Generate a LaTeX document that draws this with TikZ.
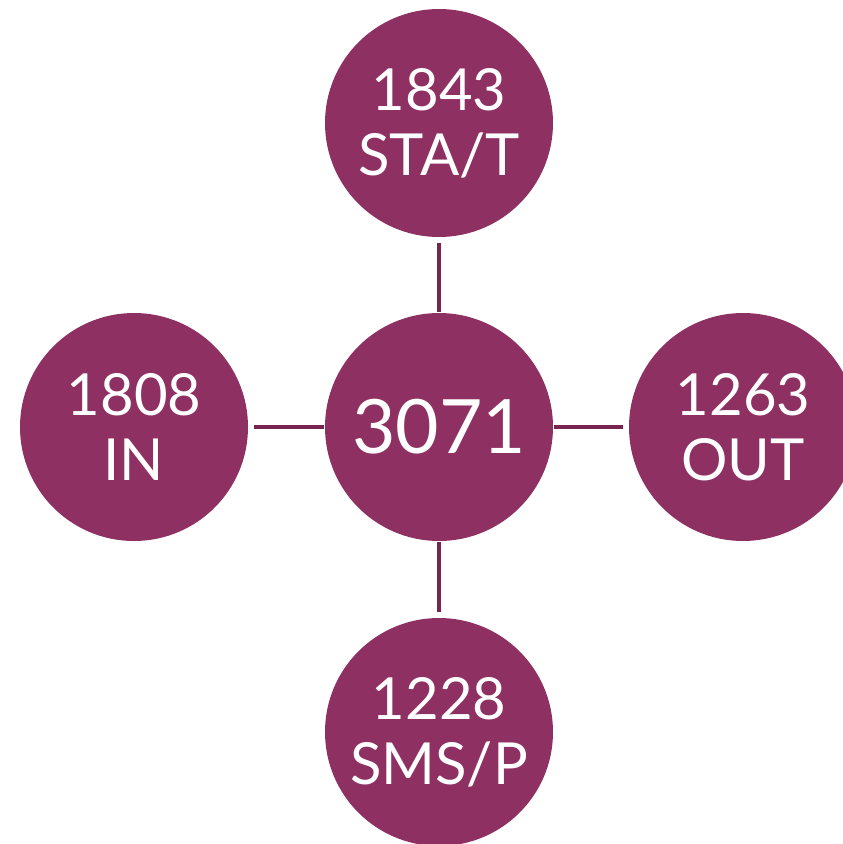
\documentclass[tikz,border=0pt]{standalone}
\usepackage{fontspec}
\setmainfont{Lato}
\definecolor{plum}{HTML}{8E3062}
\definecolor{plumline}{HTML}{782350}
\begin{document}
\begin{tikzpicture}[x=1pt,y=-1pt,
  bubble/.style={circle,fill=plum,draw=none,minimum size=228pt,inner sep=0pt,
    text=white,align=center,font=\fontsize{58}{65}\selectfont},
  hub/.style={bubble,font=\fontsize{75}{80}\selectfont},
  link/.style={draw=plumline,line width=4.5pt,shorten <=1pt,shorten >=6pt}]
\useasboundingbox (0,0) rectangle (843,844);
\clip (0,0) rectangle (843,844);
\node[hub] (c) at (439,427) {3071};
\node[bubble] (t) at (439,123) {1843\\STA/T};
\node[bubble] (l) at (134,427) {1808\\IN};
\node[bubble] (r) at (743,427) {1263\\OUT};
\node[bubble] (b) at (439,732) {1228\\SMS/P};
\draw[link] (c.north) -- (t.south);
\draw[link] (c.west) -- (l.east);
\draw[link] (c.east) -- (r.west);
\draw[link] (c.south) -- (b.north);
\end{tikzpicture}
\end{document}
